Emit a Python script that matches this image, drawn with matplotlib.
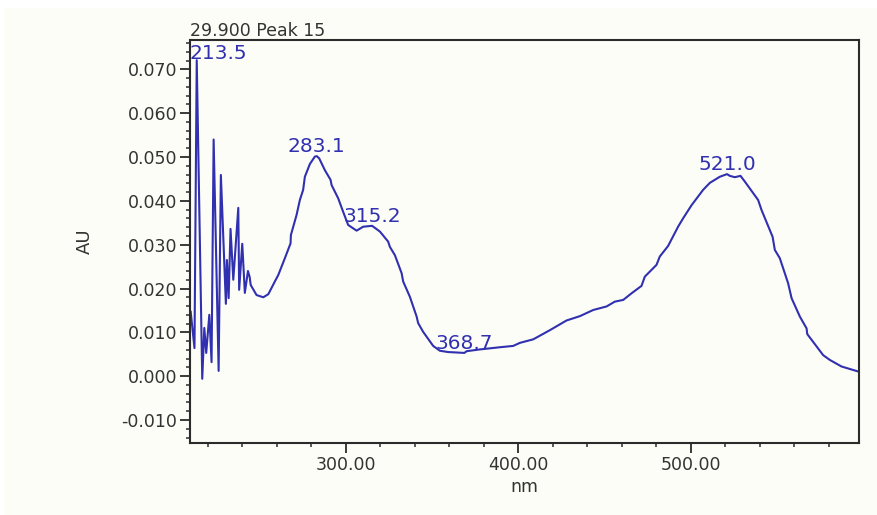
import matplotlib
matplotlib.use("Agg")
import matplotlib.pyplot as plt
import matplotlib.patches as mpatch
from matplotlib.ticker import MultipleLocator, FormatStrFormatter
import numpy as np

# spectrum (nm, AU)
wavelength = [210.0, 212.2, 213.5, 216.7, 217.9, 219.0, 220.8, 222.1, 223.3, 226.2,
              227.5, 230.4, 231.0, 232.0, 233.1, 234.7, 237.6, 238.1, 239.9, 241.4,
              243.2, 244.2, 244.8, 248.2, 252.1, 255.0, 258.8, 260.8, 264.6, 267.9,
              268.1, 271.4, 273.3, 275.2, 276.2, 279.1, 282.0, 283.1, 284.5, 287.8,
              291.1, 291.7, 295.5, 298.4, 301.3, 306.2, 310.0, 315.2, 319.7, 324.5,
              325.5, 328.4, 332.3, 333.2, 337.1, 341.0, 341.9, 344.8, 350.6, 354.5,
              359.3, 364.2, 368.7, 370.0, 377.7, 389.3, 397.0, 400.9, 408.6, 418.3,
              427.9, 435.7, 443.4, 451.1, 455.9, 460.8, 465.6, 471.4, 473.3, 480.1,
              482.0, 486.8, 492.6, 495.5, 500.4, 507.1, 511.0, 516.8, 521.0, 522.6,
              525.5, 528.8, 531.3, 539.0, 541.0, 547.4, 548.7, 551.6, 556.4, 558.4,
              563.2, 567.1, 567.5, 576.7, 580.6, 587.4, 597.6]
absorbance = [0.0147, 0.0064, 0.0721, -0.0006, 0.0110, 0.0053, 0.0140, 0.0032, 0.0540, 0.0012,
              0.0459, 0.0165, 0.0265, 0.0178, 0.0336, 0.0220, 0.0384, 0.0197, 0.0302, 0.0190,
              0.0240, 0.0226, 0.0208, 0.0185, 0.0180, 0.0187, 0.0216, 0.0231, 0.0269, 0.0303,
              0.0322, 0.0368, 0.0402, 0.0425, 0.0455, 0.0484, 0.0501, 0.0502, 0.0497, 0.0470,
              0.0448, 0.0436, 0.0406, 0.0375, 0.0345, 0.0332, 0.0341, 0.0343, 0.0330, 0.0307,
              0.0295, 0.0276, 0.0235, 0.0216, 0.0181, 0.0136, 0.0121, 0.0101, 0.0069, 0.0058,
              0.0055, 0.0054, 0.0053, 0.0057, 0.0061, 0.0066, 0.0069, 0.0076, 0.0084, 0.0105,
              0.0127, 0.0137, 0.0151, 0.0159, 0.0170, 0.0174, 0.0189, 0.0206, 0.0227, 0.0254,
              0.0273, 0.0297, 0.0341, 0.0360, 0.0390, 0.0425, 0.0441, 0.0455, 0.0461, 0.0457,
              0.0454, 0.0457, 0.0444, 0.0402, 0.0379, 0.0318, 0.0288, 0.0269, 0.0212, 0.0178,
              0.0136, 0.0109, 0.0096, 0.0048, 0.0037, 0.0022, 0.0010]

peak_nm = [213.5, 283.1, 315.2, 368.7, 521.0]
peak_text = ["213.5", "283.1", "315.2", "368.7", "521.0"]
title = "29.900 Peak 15"

plt.rcParams['font.family'] = ['DejaVu Sans']
plt.rcParams['axes.unicode_minus'] = False

cream = '#fdfdf7'
blue = '#3030b0'
dark = '#2b2b2b'

W, H = 878, 515
fig = plt.figure(figsize=(W / 100, H / 100), dpi=100, facecolor='white')
fig.patches.append(mpatch.Rectangle((4 / W, 0), 1, (H - 8) / H, transform=fig.transFigure,
                                    facecolor=cream, edgecolor='none', zorder=-10))

ax = fig.add_axes([190 / W, (H - 443) / H, (859 - 190) / W, (443 - 40) / H])
ax.set_facecolor(cream)

ax.plot(wavelength, absorbance, color=blue, lw=1.5, clip_on=True)

ax.set_xlim(209.6, 597.5)
ax.set_ylim(-0.01525, 0.0767)

ax.xaxis.set_major_locator(MultipleLocator(100))
ax.xaxis.set_minor_locator(MultipleLocator(20))
ax.yaxis.set_major_locator(MultipleLocator(0.01))
ax.yaxis.set_minor_locator(MultipleLocator(0.002))
ax.xaxis.set_major_formatter(FormatStrFormatter('%.2f'))
ax.yaxis.set_major_formatter(FormatStrFormatter('%.3f'))

ax.tick_params(which='major', length=7, width=1.3, color=dark, labelsize=12.5,
               labelcolor='#333333', pad=2)
ax.tick_params(which='minor', length=3, width=1.1, color=dark)
for s in ax.spines.values():
    s.set_color(dark)
    s.set_linewidth(1.5)

ax.set_xlabel("nm", fontsize=12.5, color='#333333', labelpad=3)
ax.set_ylabel("AU", fontsize=13, color='#333333', labelpad=20)

ax.text(0, 1.0, title, transform=ax.transAxes, ha='left', va='bottom',
        fontsize=12.5, color='#333333')

peak_au = np.interp(peak_nm, wavelength, absorbance)
for nm, val, txt in zip(peak_nm, peak_au, peak_text):
    if nm < 220:
        ax.annotate(txt, xy=(ax.get_xlim()[0], val), xytext=(0, 1),
                    textcoords='offset points', ha='left', va='baseline',
                    fontsize=14.5, color=blue)
    else:
        ax.annotate(txt, xy=(nm, val), xytext=(0, 3),
                    textcoords='offset points', ha='center', va='baseline',
                    fontsize=14.5, color=blue)

fig.savefig("out.png", dpi=100, facecolor=fig.get_facecolor())
